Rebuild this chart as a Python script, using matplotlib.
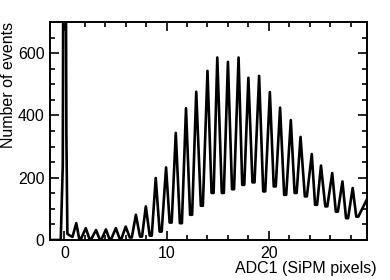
import matplotlib
matplotlib.use("Agg")
import numpy as np
from matplotlib import pyplot as plt
from matplotlib.ticker import MultipleLocator

# pedestal region, traced as drawn (goes off scale at 0)
ped_x = [-1.4, -0.35, -0.15, -0.1, 0.15, 0.2, 0.3, 0.5, 0.8]
ped_y = [0, 0, 240, 900, 900, 345, 20, 15, 10]

# photo-electron peaks: position (SiPM pixels) and height (events)
peak_x = [1.17, 2.1, 3.1, 4.07, 5.04, 6.0, 7.0, 7.97, 8.94, 9.95, 10.9, 11.9,
          12.9, 14.0, 14.96, 16.0, 17.04, 18.0, 19.05, 20.1, 21.1, 22.15,
          23.1, 24.2, 25.1, 26.2, 27.2, 28.2]
peak_y = [54, 38, 32, 34, 38, 43, 81, 108, 199, 233, 344, 423,
          476, 543, 586, 572, 586, 521, 527, 475, 425, 385,
          331, 276, 239, 215, 188, 167]

# minima after each peak
valley_x = [1.55, 2.55, 3.55, 4.5, 5.5, 6.5, 7.5, 8.45, 9.42, 10.4, 11.4, 12.4,
            13.45, 14.5, 15.5, 16.5, 17.5, 18.5, 19.55, 20.58, 21.6, 22.62,
            23.62, 24.62, 25.62, 26.65, 27.65, 28.65]
valley_y = [5, 4, 3, 4, 5, 8, 11, 14, 27, 56, 54, 81,
            110, 151, 151, 163, 177, 185, 156, 172, 145, 151,
            140, 113, 108, 91, 70, 75]

end_x = [29.6]
end_y = [131]

adc = list(ped_x)
events = list(ped_y)
for px, py, vx, vy in zip(peak_x, peak_y, valley_x, valley_y):
    adc += [px, vx - 0.1, vx + 0.1]
    events += [py, vy, vy]
adc += end_x
events += end_y

plt.rcParams['font.family'] = ['Liberation Sans', 'DejaVu Sans']
fs = 11.5

fig = plt.figure(figsize=(3.9, 2.8), dpi=100)
ax = fig.add_axes([50/390, 40/280, 317/390, 218/280])

ax.plot(adc, events, color='black', lw=1.9, solid_joinstyle='round')

ax.set_xlim(-1.4, 29.6)
ax.set_ylim(0, 700)
ax.xaxis.set_major_locator(MultipleLocator(10))
ax.xaxis.set_minor_locator(MultipleLocator(2))
ax.yaxis.set_major_locator(MultipleLocator(200))
ax.yaxis.set_minor_locator(MultipleLocator(50))
ax.tick_params(which='both', direction='in', top=True, right=True, width=1.2, labelsize=fs)
ax.tick_params(which='major', length=6.5, pad=4)
ax.tick_params(which='minor', length=3.5)
for s in ax.spines.values():
    s.set_linewidth(1.4)

ax.set_ylabel('Number of events', fontsize=fs, ha='right')
ax.yaxis.set_label_coords(-0.108, 1.0)
ax.set_xlabel('ADC1 (SiPM pixels)', fontsize=fs, ha='right')
ax.xaxis.set_label_coords(1.03, -0.095)

fig.savefig('out.png', dpi=100)
